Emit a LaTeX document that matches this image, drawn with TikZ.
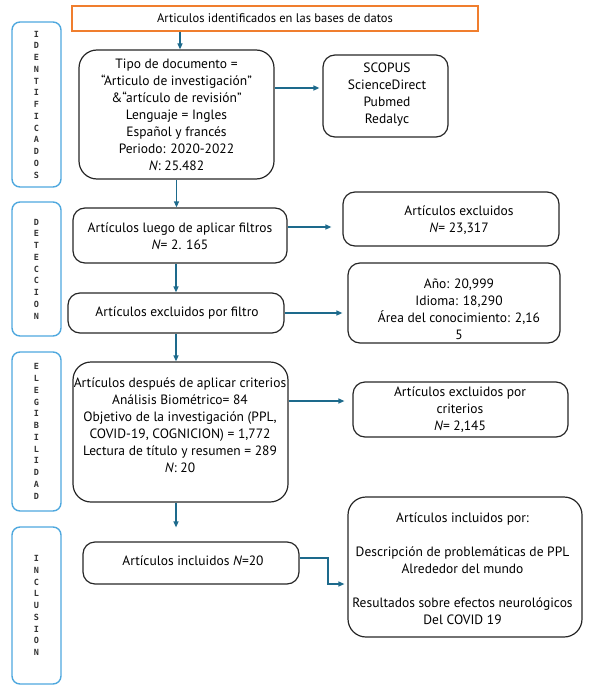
\documentclass[tikz,border=0pt]{standalone}
\usepackage{fontspec}
\setmainfont{PT Sans}
\newfontfamily\sidefont{DejaVu Sans Mono}
\usetikzlibrary{arrows.meta}
\definecolor{orng}{HTML}{F07E2E}
\definecolor{sideblue}{HTML}{4FA8DE}
\definecolor{arr}{HTML}{1D6A8C}
\begin{document}
\begin{tikzpicture}[x=1pt,y=-1pt,
  box/.style={draw=black!85, line width=1.2pt, rounded corners=12pt, inner sep=0pt},
  side/.style={draw=sideblue, line width=1.4pt, rounded corners=8pt, inner sep=0pt,
    minimum width=49pt, align=center, text=black!80, font=\sidefont\bfseries\fontsize{8.5}{11.75}\selectfont},
  txt/.style={align=center, inner sep=0pt, font=\fontsize{13.5}{17}\selectfont},
  arrow/.style={draw=arr, line width=1.2pt, -{Triangle[length=6pt,width=5pt]}}]
\useasboundingbox (0,0) rectangle (589,690);
% side labels
\node[side, minimum height=165pt] (s1) at (36.5,104.5) {I\\D\\E\\N\\T\\I\\F\\I\\C\\A\\D\\O\\S};
\node[side, minimum height=134pt] (s2) at (36.5,269) {D\\E\\T\\E\\C\\C\\I\\O\\N};
\node[side, minimum height=159pt] (s3) at (36.5,431.5) {E\\L\\E\\G\\I\\B\\I\\L\\I\\D\\A\\D};
\node[side, minimum height=157pt] (s4) at (36.5,605.5) {I\\N\\C\\L\\U\\S\\I\\O\\N};
% top box
\node[draw=orng, line width=1.8pt, minimum width=406pt, minimum height=25pt, inner sep=0pt,
  font=\fontsize{12.5}{15}\selectfont] (top) at (275,18.5) {Articulos identificados en las bases de datos};
% main column boxes
\node[box, rounded corners=18pt, minimum width=195pt, minimum height=129pt] (b1) at (176.5,114.5) {};
\node[txt] (b1t) at (176.5,114.5) {Tipo de documento =\\``Articulo de investigación''\\\&``artículo de revisión''\\Lenguaje = Ingles\\Español y francés\\Periodo: 2020-2022\\\textit{N}: 25.482};
\node[box, minimum width=214pt, minimum height=55pt] (b2) at (180,235.5) {};
\node[txt] (b2t) at (180,236.5) {Artículos luego de aplicar filtros\\\textit{N}= 2. 165};
\node[box, minimum width=216pt, minimum height=40pt] (b3) at (176,313) {};
\node[txt] (b3t) at (177,313) {Artículos excluidos por filtro};
\node[box, rounded corners=18pt, minimum width=215pt, minimum height=140pt] (b4) at (180.5,432) {};
\node[txt] (b4t) at (180,425.5) {Artículos después de aplicar criterios\\Análisis Biométrico= 84\\Objetivo de la investigación (PPL,\\COVID-19, COGNICION) = 1,772\\Lectura de título y resumen = 289\\\textit{N}: 20};
\node[box, minimum width=216pt, minimum height=42pt] (b5) at (191,563) {};
\node[txt] (b5t) at (193,561) {Artículos incluidos \textit{N}=20};
% right column boxes
\node[box, minimum width=125pt, minimum height=82pt] (r1) at (385.5,96) {};
\node[txt] (r1t) at (387,94.5) {SCOPUS\\ScienceDirect\\Pubmed\\Redalyc};
\node[box, minimum width=216pt, minimum height=54pt] (r2) at (451,219) {};
\node[txt] (r2t) at (459,220.5) {Artículos excluidos\\\textit{N}= 23,317};
\node[box, minimum width=212pt, minimum height=80pt] (r3) at (454,303) {};
\node[txt] (r3t) at (459,309) {Año: 20,999\\Idioma: 18,290\\Área del conocimiento: 2,16\\5};
\node[box, minimum width=215pt, minimum height=55pt] (r4) at (460.5,409.5) {};
\node[txt] (r4t) at (460,410) {Artículos excluidos por\\criterios\\\textit{N}= 2,145};
\node[box, rounded corners=18pt, minimum width=234pt, minimum height=140pt] (r5) at (465,567) {};
\node[txt] (r5t) at (462.5,568.5) {Artículos incluidos por:\\[17pt]Descripción de problemáticas de PPL\\Alrededor del mundo\\[17pt]Resultados sobre efectos neurológicos\\Del COVID 19};
% vertical connectors
\draw[arrow] ([xshift=3.5pt]b1.north |- top.south) -- ([xshift=3.5pt]b1.north);
\draw[arrow] (b1.south) -- (b1.south |- b2.north);
\draw[arrow] (b3.north |- b2.south) -- (b3.north);
\draw[arrow] (b3.south) -- (b3.south |- b4.north);
\draw[arrow, shorten >=14pt] (b3.south |- b4.south) -- (b3.south |- b5.north);
% horizontal connectors
\draw[arrow, shorten >=3pt] ([yshift=26.5pt]b1.east) -- ([yshift=26.5pt]b1.east -| r1.west);
\draw[arrow, shorten >=11pt] ([yshift=8.5pt]b2.east) -- ([yshift=8.5pt]b2.east -| r2.west);
\draw[arrow, shorten >=5pt] (b3.east) -- (b3.east -| r3.west);
\draw[arrow, shorten >=8pt] ([yshift=31pt]b4.east) -- ([yshift=31pt]b4.east -| r4.west);
\coordinate (k1) at (328,558);
\coordinate (k2) at (328,584);
\draw[arrow, shorten >=3pt] ([yshift=5pt]b5.east) -- (k1) -- (k2) -- (k2 -| r5.west);
\end{tikzpicture}
\end{document}
